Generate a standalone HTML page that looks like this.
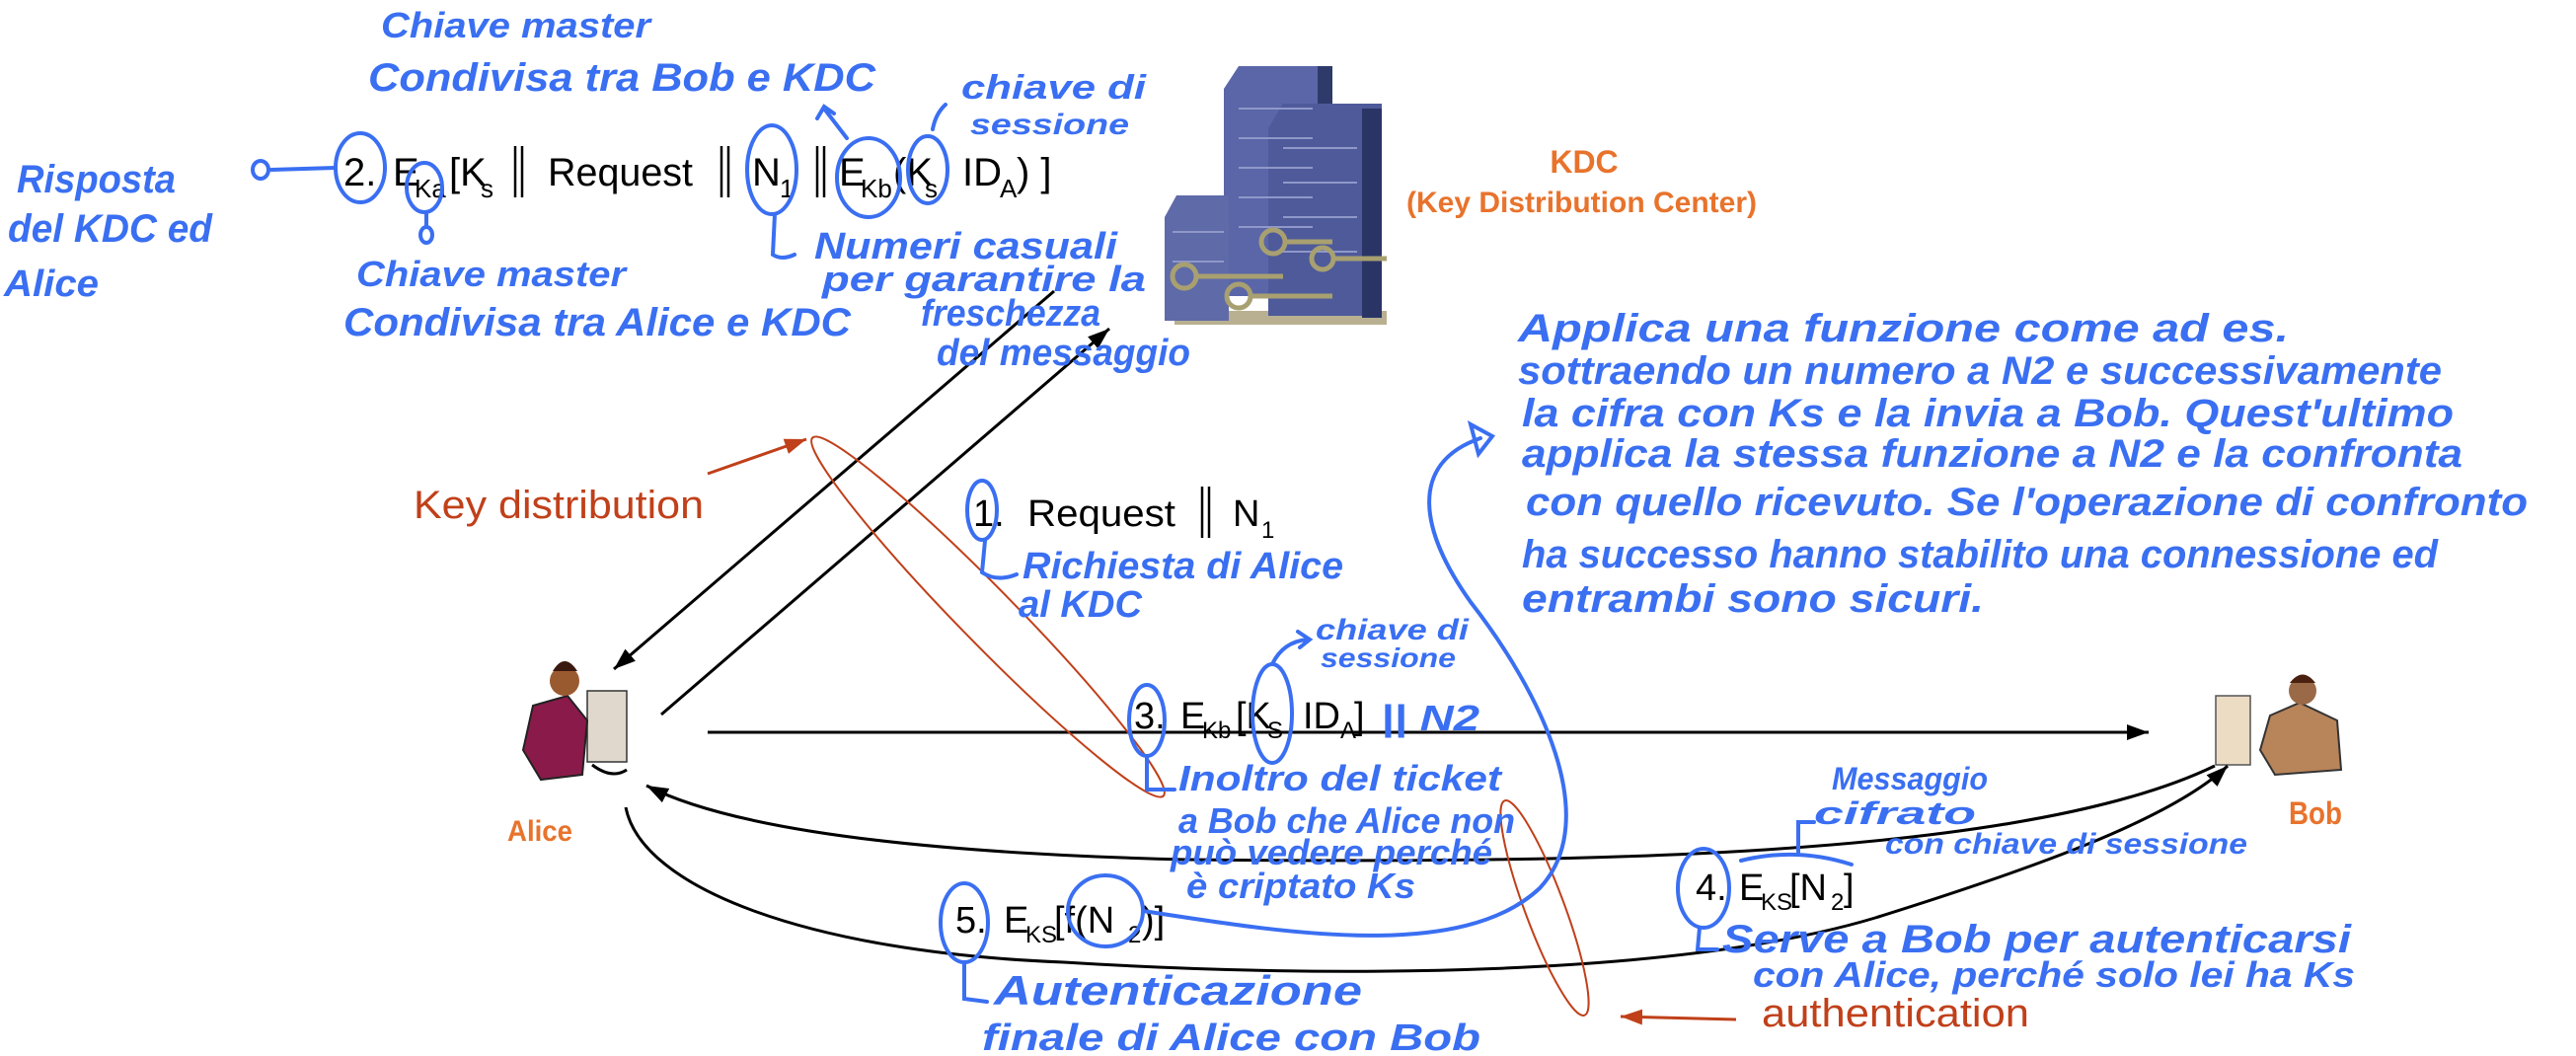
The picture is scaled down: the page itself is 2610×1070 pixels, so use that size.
<!DOCTYPE html>
<html><head><meta charset="utf-8"><style>
html,body{margin:0;padding:0;background:#fff;}
svg{display:block;}
.h{font-family:"Liberation Sans",sans-serif;font-style:italic;font-weight:bold;fill:#3a6ff2;}
.t{font-family:"Liberation Sans",sans-serif;fill:#000;}
.o{font-family:"Liberation Sans",sans-serif;font-weight:bold;fill:#e8732c;}
.r{font-family:"Liberation Sans",sans-serif;fill:#c0401a;}
.bl{fill:none;stroke:#3a6ff2;stroke-width:4;stroke-linecap:round;}
.k{fill:none;stroke:#000;stroke-width:3;}
</style></head><body>
<svg width="2610" height="1070" viewBox="0 0 2610 1070" xmlns="http://www.w3.org/2000/svg">
<defs>
<marker id="ah" markerUnits="userSpaceOnUse" markerWidth="24" markerHeight="20" refX="22" refY="10" orient="auto"><path d="M0,2 L22,10 L0,18 Z" fill="#000"/></marker>
<marker id="rh" markerUnits="userSpaceOnUse" markerWidth="24" markerHeight="20" refX="22" refY="10" orient="auto"><path d="M0,2 L22,10 L0,18 Z" fill="#c0401a"/></marker>
</defs>

<!-- Building -->
<g>
<rect x="1190" y="315" width="215" height="14" fill="#b8b090"/>
<polygon points="1240,90 1255,67 1350,67 1350,300 1240,300" fill="#5a66a8"/>
<rect x="1335" y="67" width="15" height="240" fill="#2e3a6a"/>
<polygon points="1285,130 1300,105 1400,105 1400,320 1285,320" fill="#4e5a9a"/>
<rect x="1380" y="110" width="20" height="212" fill="#2a3566"/>
<polygon points="1180,220 1192,198 1245,198 1245,325 1180,325" fill="#5f6aa8"/>
<g stroke="#8f98c8" stroke-width="2">
<line x1="1255" y1="110" x2="1330" y2="110"/><line x1="1255" y1="140" x2="1330" y2="140"/><line x1="1255" y1="170" x2="1330" y2="170"/><line x1="1255" y1="200" x2="1330" y2="200"/><line x1="1255" y1="230" x2="1330" y2="230"/>
<line x1="1300" y1="150" x2="1375" y2="150"/><line x1="1300" y1="185" x2="1375" y2="185"/><line x1="1300" y1="220" x2="1375" y2="220"/><line x1="1300" y1="255" x2="1375" y2="255"/>
<line x1="1188" y1="235" x2="1240" y2="235"/><line x1="1188" y1="265" x2="1240" y2="265"/>
</g>
<g fill="none" stroke="#a8a070" stroke-width="5">
<circle cx="1200" cy="280" r="12"/><line x1="1212" y1="280" x2="1300" y2="280"/>
<circle cx="1290" cy="245" r="12"/><line x1="1302" y1="245" x2="1350" y2="245"/>
<circle cx="1255" cy="300" r="12"/><line x1="1267" y1="300" x2="1350" y2="300"/>
<circle cx="1340" cy="262" r="11"/><line x1="1351" y1="262" x2="1405" y2="262"/>
</g>
</g>

<!-- Alice -->
<g>
<rect x="595" y="700" width="40" height="72" fill="#e0d8cc" stroke="#333" stroke-width="1.5"/>
<polygon points="540,715 575,705 595,730 590,785 548,790 530,760" fill="#8a1a4a" stroke="#222" stroke-width="2"/>
<circle cx="572" cy="690" r="15" fill="#9a5a30"/>
<path d="M560,680 Q572,660 585,680" fill="#3a1a10"/>
<path d="M600,775 Q620,790 635,780" class="k" stroke-width="2"/>
</g>
<!-- Bob -->
<g>
<rect x="2245" y="705" width="35" height="70" fill="#ecdcc4" stroke="#555" stroke-width="1.5"/>
<polygon points="2300,725 2330,712 2368,730 2372,780 2305,785 2290,760" fill="#b8845a" stroke="#333" stroke-width="2"/>
<circle cx="2333" cy="700" r="14" fill="#9a6a48"/>
<path d="M2320,692 Q2333,675 2346,692" fill="#4a2010"/>
</g>

<!-- Black connectors -->
<line class="k" x1="1068" y1="295" x2="622" y2="678" marker-end="url(#ah)"/>
<line class="k" x1="670" y1="724" x2="1124" y2="333" marker-end="url(#ah)"/>
<line class="k" x1="717" y1="742" x2="2177" y2="742" stroke-width="4" marker-end="url(#ah)"/>
<path class="k" d="M2244,776 C2050,870 1600,875 1202,871 C1000,866 760,850 655,796" marker-end="url(#ah)"/>
<path class="k" d="M634,818 C650,900 820,965 1078,975 C1350,992 1700,990 1900,930 C2060,880 2200,830 2257,776" marker-end="url(#ah)"/>

<!-- Red -->
<ellipse cx="1001" cy="625" rx="254" ry="28" transform="rotate(45.6 1001 625)" fill="none" stroke="#c0401a" stroke-width="2"/>
<ellipse cx="1565" cy="920" rx="116" ry="20" transform="rotate(69.6 1565 920)" fill="none" stroke="#c0401a" stroke-width="2"/>
<line x1="717" y1="480" x2="817" y2="445" stroke="#c0401a" stroke-width="3" marker-end="url(#rh)"/>
<line x1="1759" y1="1033" x2="1642" y2="1030" stroke="#c0401a" stroke-width="3" marker-end="url(#rh)"/>
<text class="r" x="419" y="525" font-size="40" textLength="294" lengthAdjust="spacingAndGlyphs">Key distribution</text>
<text class="r" x="1785" y="1040" font-size="40" textLength="271" lengthAdjust="spacingAndGlyphs">authentication</text>

<!-- Orange labels -->
<text class="o" x="1605" y="175" font-size="32" text-anchor="middle">KDC</text>
<text class="o" x="1425" y="215" font-size="30" textLength="355" lengthAdjust="spacingAndGlyphs">(Key Distribution Center)</text>
<text class="o" x="514" y="852" font-size="30" textLength="66" lengthAdjust="spacingAndGlyphs">Alice</text>
<text class="o" x="2319" y="835" font-size="32" textLength="54" lengthAdjust="spacingAndGlyphs">Bob</text>

<!-- Formula 2 -->
<g class="t" font-size="40">
<text x="348" y="188">2.</text>
<text x="398" y="188">E</text><text x="420" y="200" font-size="26">Ka</text>
<text x="455" y="188">[K</text><text x="487" y="200" font-size="26">s</text>
<text x="555" y="188" textLength="147" lengthAdjust="spacingAndGlyphs">Request</text>
<text x="762" y="188">N</text><text x="790" y="200" font-size="26">1</text>
<text x="850" y="188">E</text><text x="872" y="200" font-size="26">Kb</text>
<text x="905" y="188">(K</text><text x="937" y="200" font-size="26">s</text>
<text x="975" y="188">ID</text><text x="1013" y="200" font-size="26">A</text>
<text x="1030" y="188">) ]</text>
</g>
<g stroke="#000" stroke-width="2.5">
<line x1="522" y1="148" x2="522" y2="200"/><line x1="529" y1="148" x2="529" y2="200"/>
<line x1="731" y1="148" x2="731" y2="200"/><line x1="738" y1="148" x2="738" y2="200"/>
<line x1="828" y1="148" x2="828" y2="200"/><line x1="835" y1="148" x2="835" y2="200"/>
<line x1="1218" y1="493" x2="1218" y2="545"/><line x1="1225" y1="493" x2="1225" y2="545"/>
</g>
<!-- Formula 1 -->
<g class="t" font-size="38">
<text x="986" y="533">1.</text>
<text x="1041" y="533" textLength="150" lengthAdjust="spacingAndGlyphs">Request</text>
<text x="1249" y="533">N</text><text x="1278" y="545" font-size="24">1</text>
</g>
<!-- Formula 3 -->
<g class="t" font-size="38">
<text x="1149" y="738">3.</text>
<text x="1196" y="738">E</text><text x="1218" y="748" font-size="24">Kb</text>
<text x="1252" y="738">[K</text><text x="1284" y="748" font-size="24">S</text>
<text x="1320" y="738">ID</text><text x="1358" y="748" font-size="24">A</text>
<text x="1372" y="738">]</text>
</g>
<!-- Formula 4 -->
<g class="t" font-size="38">
<text x="1718" y="912">4.</text>
<text x="1762" y="912">E</text><text x="1784" y="922" font-size="24">KS</text>
<text x="1813" y="912">[N</text><text x="1855" y="922" font-size="24">2</text>
<text x="1868" y="912">]</text>
</g>
<!-- Formula 5 -->
<g class="t" font-size="38">
<text x="968" y="945">5.</text>
<text x="1017" y="945">E</text><text x="1039" y="955" font-size="24">KS</text>
<text x="1068" y="945">[f(N</text><text x="1143" y="955" font-size="24">2</text>
<text x="1157" y="945">)]</text>
</g>

<!-- Blue circles & strokes -->
<g class="bl">
<ellipse cx="365" cy="170" rx="25" ry="35"/>
<ellipse cx="430" cy="190" rx="18" ry="25"/>
<ellipse cx="782" cy="172" rx="25" ry="45"/>
<ellipse cx="880" cy="180" rx="32" ry="40"/>
<ellipse cx="940" cy="172" rx="20" ry="34"/>
<ellipse cx="995" cy="517" rx="15" ry="30"/>
<ellipse cx="1162" cy="730" rx="18" ry="36"/>
<ellipse cx="1289" cy="723" rx="20" ry="50"/>
<ellipse cx="1726" cy="900" rx="26" ry="40"/>
<ellipse cx="977" cy="935" rx="24" ry="40"/>
<ellipse cx="1120" cy="923" rx="38" ry="36"/>
<path d="M340,170 L275,172"/><ellipse cx="264" cy="172" rx="8" ry="9"/>
<path d="M432,215 L432,230"/><ellipse cx="432" cy="238" rx="6" ry="8"/>
<path d="M785,217 L783,258 Q792,264 805,258"/>
<path d="M858,140 L835,110 M828,120 L835,108 L845,115"/>
<path d="M945,131 Q948,115 958,106"/>
<path d="M998,548 L995,580 Q1010,590 1030,582"/>
<path d="M1162,766 L1162,800 L1190,800"/>
<path d="M1289,673 Q1300,650 1325,648 M1315,640 L1327,648 L1317,656"/>
<path d="M1722,940 L1720,962 L1740,962"/>
<path d="M1764,872 Q1820,858 1876,876 M1822,866 L1822,833 L1838,833"/>
<path d="M977,975 L977,1012 L1000,1015"/>
<path d="M1158,923 C1300,945 1480,975 1560,900 C1625,830 1560,700 1490,610 C1440,540 1425,470 1500,444"/>
<path d="M1490,430 L1512,442 L1498,460 Z"/>
</g>

<!-- Handwritten notes -->
<g class="h">
<text x="386" y="38" font-size="36" textLength="273" lengthAdjust="spacingAndGlyphs">Chiave master</text>
<text x="373" y="92" font-size="40" textLength="514" lengthAdjust="spacingAndGlyphs">Condivisa tra Bob e KDC</text>
<text x="974" y="100" font-size="34" textLength="187" lengthAdjust="spacingAndGlyphs">chiave di</text>
<text x="983" y="136" font-size="30" textLength="161" lengthAdjust="spacingAndGlyphs">sessione</text>
<text x="17" y="195" font-size="40" textLength="161" lengthAdjust="spacingAndGlyphs">Risposta</text>
<text x="8" y="245" font-size="40" textLength="207" lengthAdjust="spacingAndGlyphs">del KDC ed</text>
<text x="4" y="300" font-size="38" textLength="96" lengthAdjust="spacingAndGlyphs">Alice</text>
<text x="361" y="290" font-size="36" textLength="273" lengthAdjust="spacingAndGlyphs">Chiave master</text>
<text x="348" y="340" font-size="40" textLength="514" lengthAdjust="spacingAndGlyphs">Condivisa tra Alice e KDC</text>
<text x="825" y="262" font-size="38" textLength="307" lengthAdjust="spacingAndGlyphs">Numeri casuali</text>
<text x="833" y="295" font-size="36" textLength="328" lengthAdjust="spacingAndGlyphs">per garantire la</text>
<text x="933" y="330" font-size="38" textLength="182" lengthAdjust="spacingAndGlyphs">freschezza</text>
<text x="949" y="370" font-size="38" textLength="257" lengthAdjust="spacingAndGlyphs">del messaggio</text>

<text x="1538" y="346" font-size="40" textLength="781" lengthAdjust="spacingAndGlyphs">Applica una funzione come ad es.</text>
<text x="1538" y="389" font-size="40" textLength="936" lengthAdjust="spacingAndGlyphs">sottraendo un numero a N2 e successivamente</text>
<text x="1542" y="432" font-size="40" textLength="944" lengthAdjust="spacingAndGlyphs">la cifra con Ks e la invia a Bob. Quest'ultimo</text>
<text x="1542" y="473" font-size="40" textLength="953" lengthAdjust="spacingAndGlyphs">applica la stessa funzione a N2 e la confronta</text>
<text x="1546" y="522" font-size="40" textLength="1015" lengthAdjust="spacingAndGlyphs">con quello ricevuto. Se l'operazione di confronto</text>
<text x="1542" y="575" font-size="40" textLength="928" lengthAdjust="spacingAndGlyphs">ha successo hanno stabilito una connessione ed</text>
<text x="1542" y="620" font-size="40" textLength="468" lengthAdjust="spacingAndGlyphs">entrambi sono sicuri.</text>

<text x="1036" y="586" font-size="38" textLength="325" lengthAdjust="spacingAndGlyphs">Richiesta di Alice</text>
<text x="1032" y="625" font-size="38" textLength="125" lengthAdjust="spacingAndGlyphs">al KDC</text>
<text x="1333" y="648" font-size="30" textLength="155" lengthAdjust="spacingAndGlyphs">chiave di</text>
<text x="1338" y="676" font-size="28" textLength="137" lengthAdjust="spacingAndGlyphs">sessione</text>
<text x="1399" y="740" font-size="36" textLength="100" lengthAdjust="spacingAndGlyphs">|| N2</text>
<text x="1194" y="801" font-size="36" textLength="327" lengthAdjust="spacingAndGlyphs">Inoltro del ticket</text>
<text x="1194" y="844" font-size="36" textLength="341" lengthAdjust="spacingAndGlyphs">a Bob che Alice non</text>
<text x="1186" y="876" font-size="36" textLength="326" lengthAdjust="spacingAndGlyphs">può vedere perché</text>
<text x="1202" y="910" font-size="36" textLength="232" lengthAdjust="spacingAndGlyphs">è criptato Ks</text>
<text x="1856" y="800" font-size="32" textLength="158" lengthAdjust="spacingAndGlyphs">Messaggio</text>
<text x="1838" y="835" font-size="32" textLength="164" lengthAdjust="spacingAndGlyphs">cifrato</text>
<text x="1910" y="865" font-size="30" textLength="367" lengthAdjust="spacingAndGlyphs">con chiave di sessione</text>
<text x="1745" y="965" font-size="40" textLength="637" lengthAdjust="spacingAndGlyphs">Serve a Bob per autenticarsi</text>
<text x="1776" y="1000" font-size="36" textLength="610" lengthAdjust="spacingAndGlyphs">con Alice, perché solo lei ha Ks</text>
<text x="1007" y="1018" font-size="42" textLength="373" lengthAdjust="spacingAndGlyphs">Autenticazione</text>
<text x="995" y="1064" font-size="38" textLength="505" lengthAdjust="spacingAndGlyphs">finale di Alice con Bob</text>
</g>
</svg>
</body></html>
